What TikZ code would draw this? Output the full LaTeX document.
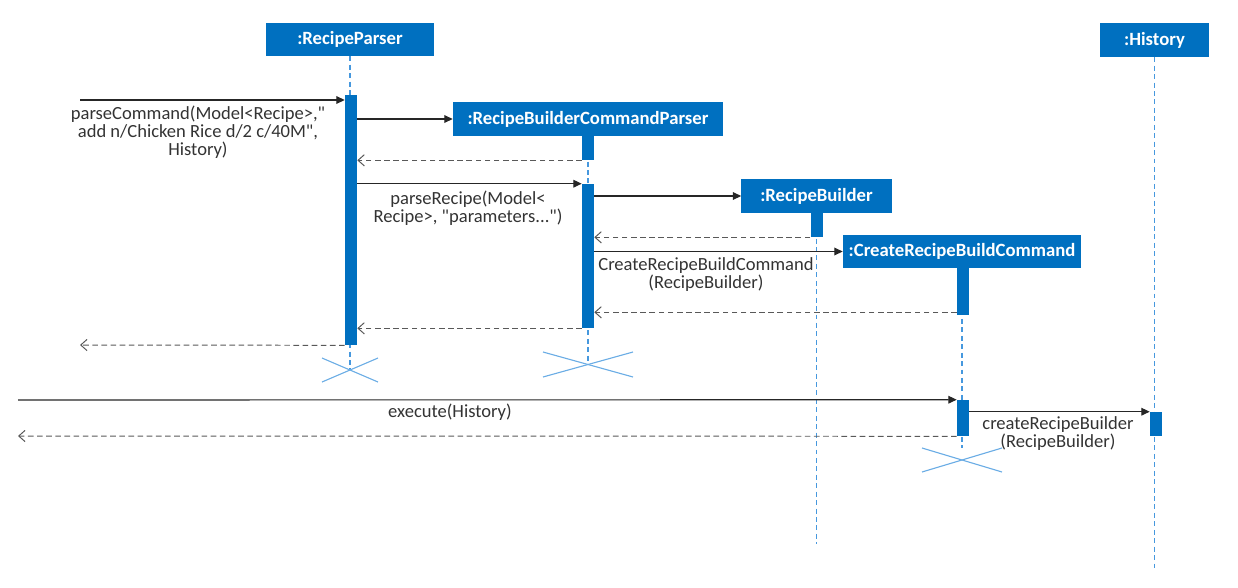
\documentclass[tikz,border=0pt]{standalone}
\usepackage{fontspec}
\setmainfont{Carlito}[Ligatures=TeXOff]
\usepackage{tikz}
\usetikzlibrary{arrows.meta, positioning, calc, backgrounds}

\begin{document}
\begin{tikzpicture}[
    x=0.025cm, y=-0.025cm,
    font=\fontsize{13.2}{12.8}\selectfont,
    objbox/.style n args={2}{
        rectangle, fill=objblue, text=white, font=\fontsize{13.3}{14}\selectfont\bfseries,
        inner sep=0pt, minimum width=#1, minimum height=#2
    },
    actbar/.style={
        rectangle, fill=objblue, inner sep=0pt,
        minimum width=0.3cm, minimum height=#1
    },
    lifeline/.style={
        draw=lineblue, line width=0.8pt, dash pattern=on 3.5pt off 2.5pt
    },
    destroy/.style={
        draw=lineblue!80, line width=0.8pt
    },
    msg/.style={
        -{Triangle[length=6pt,width=5.5pt]}, line width=0.8pt, draw=black!85
    },
    ret/.style={
        -{Straight Barb[length=4.5pt,width=8pt]}, line width=0.7pt,
        draw=black!65, dash pattern=on 4pt off 2.5pt
    },
    lbl/.style={
        text=black!80, align=center, inner sep=1pt
    },
]

\definecolor{objblue}{RGB}{0,112,192}
\definecolor{lineblue}{RGB}{70,152,222}

\useasboundingbox (0,0) rectangle (1238,587);

% ============================================================
% Objects and activations
% ============================================================

\node[objbox={4.175cm}{0.825cm}] (parser) at (350,39.5) {:RecipeParser};
\node[objbox={6.75cm}{0.85cm}] (cmdparser) at (588,119) {:RecipeBuilderCommandParser};
\node[objbox={3.75cm}{0.85cm}] (builder) at (816.5,196) {:RecipeBuilder};
\node[objbox={5.95cm}{0.825cm}] (createcmd) at (962,251.5) {:CreateRecipeBuildCommand};
\node[objbox={2.725cm}{0.85cm}] (history) at (1154.5,40) {:History};

\node[actbar=6.25cm] (pa) at (351,220) {};
\node[actbar=0.6cm] (ca1) at (588,148) {};
\node[actbar=3.6cm] (ca2) at (588,256) {};
\node[actbar=0.6cm] (ba) at (816.5,225) {};
\node[actbar=1.175cm] (ka1) at (963,291.5) {};
\node[actbar=0.9cm] (ka2) at (963,418) {};
\node[actbar=0.6cm] (ha) at (1156,424) {};

% free ends and destruction points
\coordinate (in1) at (80,100);
\coordinate (out1) at (80,345);
\coordinate (in2) at (18,400);
\coordinate (out2) at (18,436);
\coordinate (x1) at (350,370);
\coordinate (x2) at (588,364.5);
\coordinate (x3) at (962,460);

% ============================================================
% Lifelines
% ============================================================

\begin{scope}[on background layer]
\draw[lifeline] (parser.south) -- (parser.south |- x1);
\draw[lifeline] (cmdparser.south) -- (cmdparser.south |- x2);
\draw[lifeline] (builder.south) -- ++(0,331);
\draw[lifeline] (createcmd.south) -- ++(0,180);
\draw[lifeline] (history.south) -- ++(0,511);
\end{scope}

\draw[destroy] ($(x1)+(-28,-12)$) -- ($(x1)+(28,12)$);
\draw[destroy] ($(x1)+(-28,12)$) -- ($(x1)+(28,-12)$);
\draw[destroy] ($(x2)+(-45,-12.5)$) -- ($(x2)+(45,12.5)$);
\draw[destroy] ($(x2)+(-45,12.5)$) -- ($(x2)+(45,-12.5)$);
\draw[destroy] ($(x3)+(-40,-12)$) -- ($(x3)+(40,12)$);
\draw[destroy] ($(x3)+(-40,12)$) -- ($(x3)+(40,-12)$);

% ============================================================
% Messages
% ============================================================

\draw[msg] (in1) -- (in1 -| pa.west);
\node[lbl] (l1) at (198,132.5)
    {parseCommand(Model<Recipe>,"\\ add n/Chicken Rice d/2 c/40M",\\History)};

\draw[msg] (pa.east |- cmdparser.west) -- (cmdparser.west);
\draw[ret] (ca1.south west) -- (ca1.south west -| pa.east);

\draw[msg] (pa.east |- ca2.north) -- (ca2.north west);
\node[lbl] (l2) at (468,208) {parseRecipe(Model<\\Recipe>, "parameters...")};

\draw[msg] (ca2.east |- builder.west) -- (builder.west);
\draw[ret] (ba.south west) -- (ba.south west -| ca2.east);

\draw[msg] (ca2.east |- createcmd.west) -- (createcmd.west);
\node[lbl] (l3) at (706,275) {CreateRecipeBuildCommand\\(RecipeBuilder)};

\draw[ret] ($(ka1.south west)+(0,-3)$) -- ($(ka1.south west -| ca2.east)+(0,-3)$);
\draw[ret] (ca2.south west) -- (ca2.south west -| pa.east);
\draw[ret] (pa.south west) -- (out1);

\draw[msg] (in2) -- (ka2.north west);
\node[lbl] (l4) at (450,412) {execute(History)};

\draw[msg] (ka2.east |- ha.north) -- (ha.north west);
\node[lbl] (l5) at (1058,433.5) {createRecipeBuilder\\(RecipeBuilder)};

\draw[ret] (ka2.south west) -- (out2);

\end{tikzpicture}
\end{document}
